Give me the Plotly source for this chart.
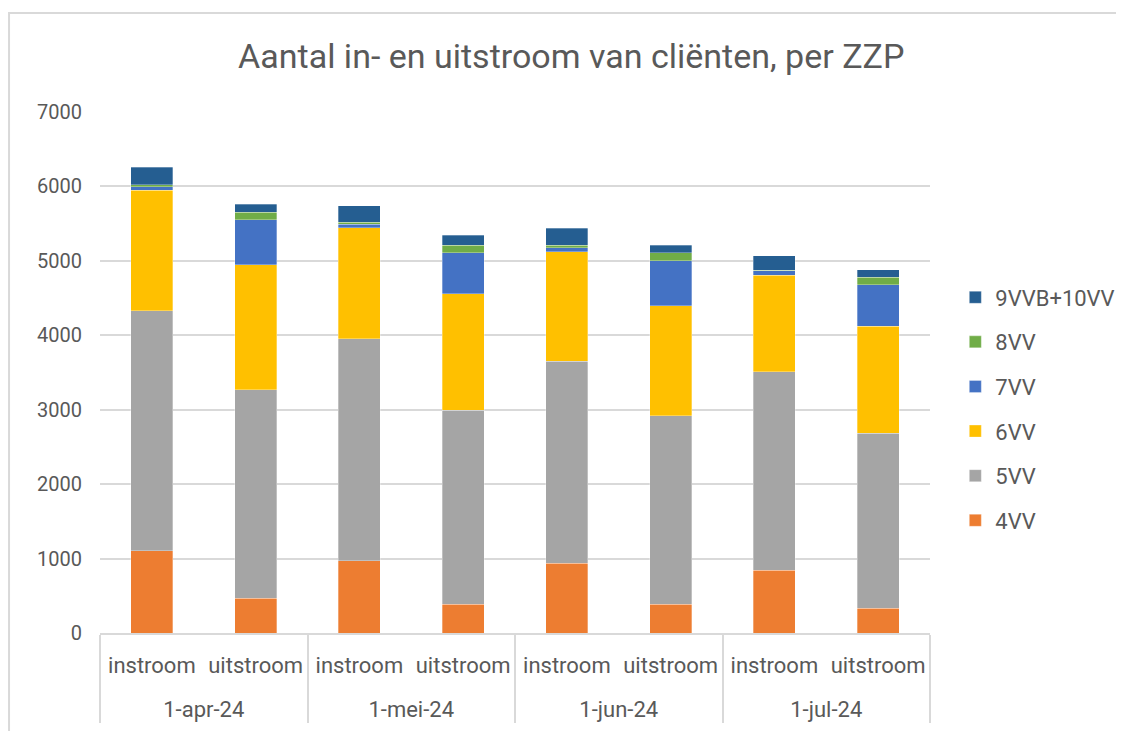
import plotly.graph_objects as go

months = ["1-apr-24", "1-apr-24", "1-mei-24", "1-mei-24", "1-jun-24", "1-jun-24", "1-jul-24", "1-jul-24"]
flows = ["instroom", "uitstroom"] * 4

v4 = [1106, 470, 971, 385, 936, 385, 846, 332]
v5 = [3225, 2795, 2983, 2611, 2718, 2531, 2661, 2355]
v6 = [1621, 1683, 1492, 1559, 1469, 1481, 1303, 1434]
v7 = [45, 605, 45, 551, 54, 605, 54, 555]
v8 = [26, 103, 27, 102, 36, 104, 13, 103]
v9 = [238, 104, 223, 139, 224, 107, 192, 102]

series = [
    ("4VV", v4, "#ED7D31"),
    ("5VV", v5, "#A5A5A5"),
    ("6VV", v6, "#FFC000"),
    ("7VV", v7, "#4472C4"),
    ("8VV", v8, "#70AD47"),
    ("9VVB+10VV", v9, "#255E91"),
]

FONT = "Roboto, Lato, sans-serif"
GRAY = "#595959"

# month labels pushed one line down to mimic Excel's spacing
month_labels = [" <br>" + m for m in months]

fig = go.Figure()
n = len(series)
for i, (name, vals, col) in enumerate(series):
    fig.add_trace(go.Bar(
        x=[month_labels, flows], y=vals, name=name, legendgroup=name,
        legendrank=n - i,
        marker=dict(color=col, line=dict(color="rgba(255,255,255,0.6)", width=0.5)),
    ))

fig.update_layout(
    barmode="stack",
    bargap=0.596,
    width=1116, height=723,
    paper_bgcolor="white", plot_bgcolor="white",
    margin=dict(l=92, r=194, t=104, b=98, autoexpand=False),
    font=dict(family=FONT, color=GRAY, size=18),
    title=dict(text="Aantal in- en uitstroom van cliënten, per ZZP",
               x=0.5047, xanchor="center", y=0.9336, yanchor="middle",
               font=dict(size=34, color=GRAY, family=FONT)),
    legend=dict(x=1.0305, xanchor="left", y=0.43, yanchor="middle",
                traceorder="grouped", tracegroupgap=13,
                font=dict(size=22, color=GRAY), itemwidth=30),
    yaxis=dict(range=[0, 7000], dtick=1000, showgrid=True, gridcolor="#d9d9d9",
               gridwidth=2, zeroline=False, showline=False, ticks="",
               ticklabelstandoff=17, tickfont=dict(size=20, color=GRAY)),
    xaxis=dict(type="multicategory", showline=True, linecolor="#d9d9d9", linewidth=2,
               showdividers=True, dividercolor="#d9d9d9", dividerwidth=2,
               ticklabelstandoff=12,
               tickfont=dict(size=22, color=GRAY)),
    shapes=[dict(type="rect", xref="paper", yref="paper",
                 x0=-0.1096, x1=1.3, y0=-0.3, y1=1.19,
                 line=dict(color="#d9d9d9", width=2), fillcolor="rgba(0,0,0,0)")],
)

fig.write_html("out.html")
